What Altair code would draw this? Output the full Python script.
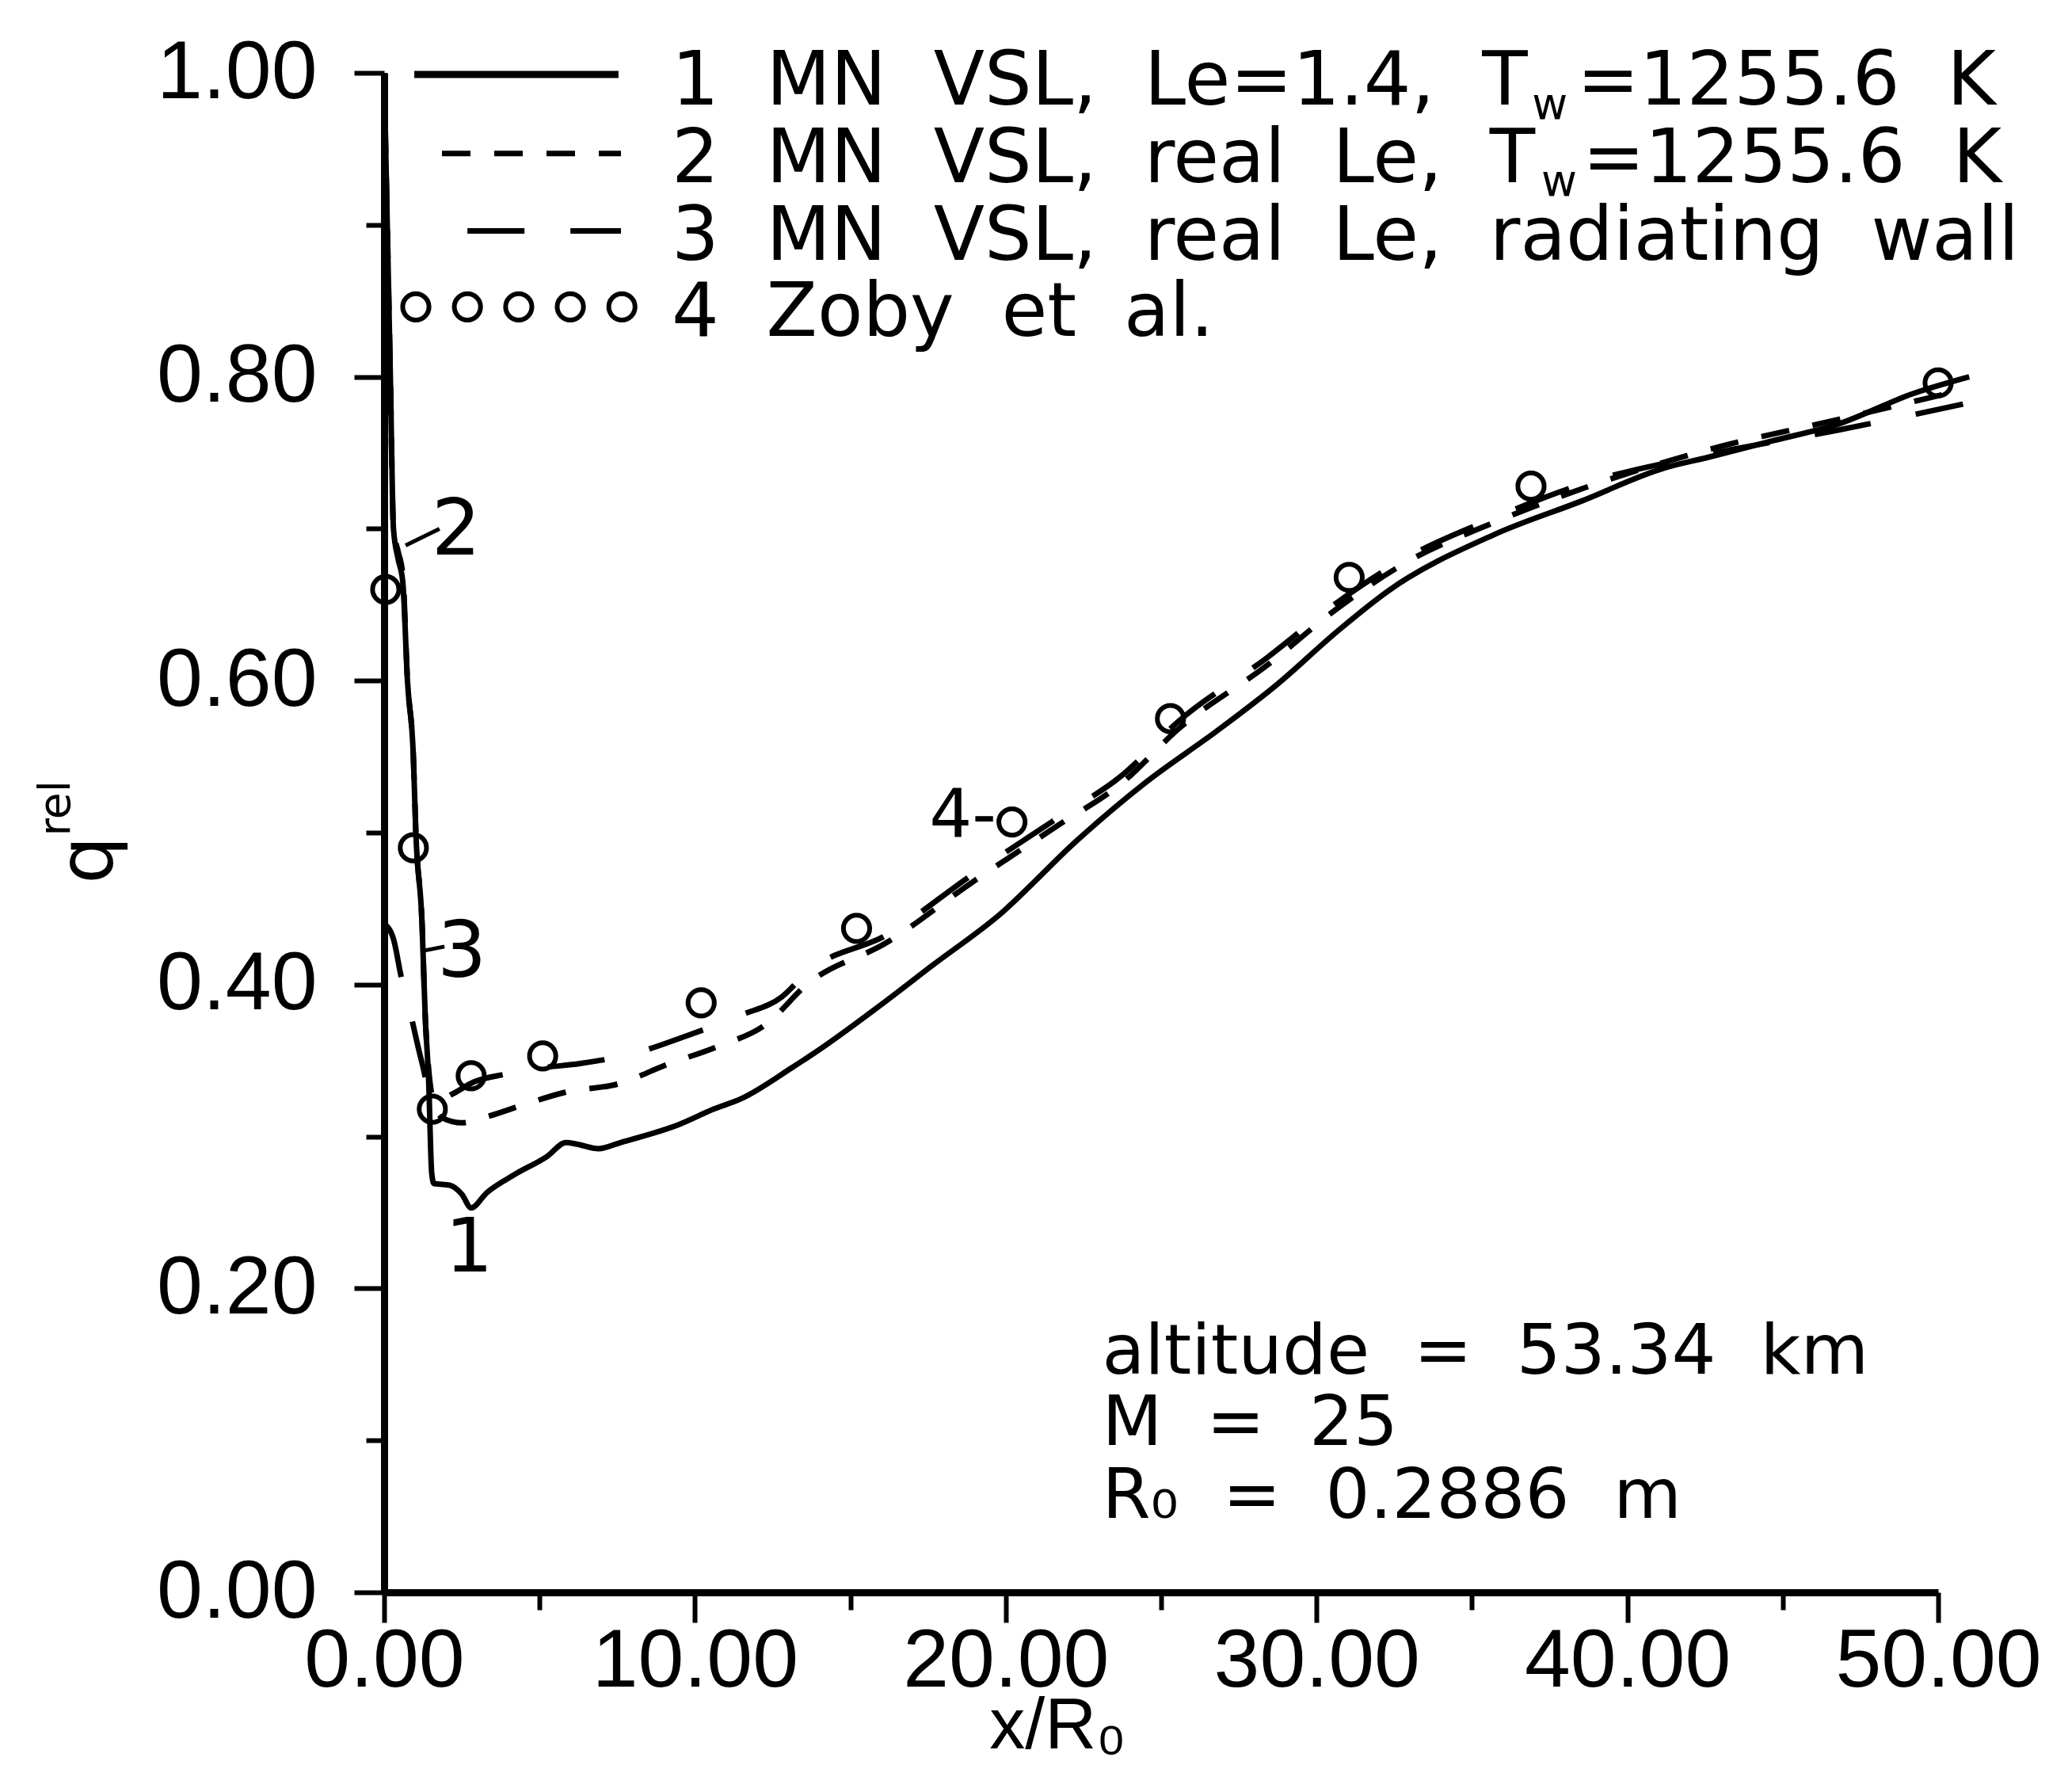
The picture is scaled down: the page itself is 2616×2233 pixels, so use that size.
import altair as alt
import pandas as pd

# ---- series 1: MN VSL, Le=1.4, Tw=1255.6 K (solid)
x1 = [0.0, 0.1, 0.2, 0.3, 0.45, 0.6, 0.75, 0.94, 1.02, 1.22, 1.32, 1.43, 1.53, 1.6, 2.1, 2.5, 2.8,
      3.3, 4.2, 5.25, 5.85, 6.2, 6.9, 7.6, 9.5, 10.6, 11.5, 13.1, 14.2, 16.2, 17.6, 19.8, 22.3,
      24.5, 26.8, 28.7, 30.7, 32.3, 35.7, 38.5, 41.2, 42.6, 44.5, 46.8, 49.2, 51.0]
y1 = [1.0, 0.9, 0.8, 0.7, 0.68, 0.665, 0.60, 0.55, 0.50, 0.44, 0.38, 0.338, 0.276, 0.269, 0.268, 0.262, 0.253,
      0.263, 0.275, 0.287, 0.296, 0.295, 0.292, 0.296, 0.308, 0.318, 0.325, 0.345, 0.36, 0.39, 0.412, 0.446, 0.495,
      0.533, 0.567, 0.597, 0.633, 0.659, 0.696, 0.718, 0.740, 0.747, 0.757, 0.769, 0.789, 0.80]

# ---- series 2: MN VSL, real Le, Tw=1255.6 K (short dashes)
x2 = [0.0, 0.1, 0.2, 0.3, 0.45, 0.6, 0.75, 0.94, 1.02, 1.22, 1.32, 1.43, 1.6, 1.9, 2.5, 3.3, 4.5,
      5.8, 7.6, 9.05, 10.7, 12.3, 13.6, 16.2, 18.9, 21.7, 23.7, 25.6, 28.4, 30.7, 32.9, 35.7, 38.5,
      42.6, 46.8, 50.5]
y2 = [1.0, 0.9, 0.8, 0.7, 0.685, 0.67, 0.60, 0.55, 0.50, 0.44, 0.38, 0.345, 0.322, 0.312, 0.309, 0.313, 0.321,
      0.329, 0.335, 0.347, 0.359, 0.374, 0.400, 0.428, 0.467, 0.505, 0.532, 0.569, 0.610, 0.648, 0.678, 0.704, 0.726,
      0.752, 0.772, 0.790]

# ---- series 3: MN VSL, real Le, radiating wall (long dashes)
x3 = [0.0, 0.3, 0.55, 0.8, 1.2, 1.6, 2.2, 2.9, 3.9, 5.0, 6.3, 8.1, 9.7, 11.5, 12.8, 13.6, 16.2,
      18.9, 21.7, 23.7, 25.6, 28.4, 30.7, 32.9, 35.7, 38.5, 42.6, 46.8, 50.8]
y3 = [0.44, 0.43, 0.405, 0.385, 0.35, 0.322, 0.328, 0.336, 0.341, 0.345, 0.348, 0.355, 0.366, 0.38, 0.392, 0.408, 0.433,
      0.472, 0.510, 0.537, 0.574, 0.615, 0.652, 0.681, 0.707, 0.729, 0.749, 0.765, 0.782]

# ---- series 4: Zoby et al. (circles)
x4 = [0.05, 0.94, 1.55, 2.8, 5.1, 10.2, 15.2, 20.2, 25.3, 31.05, 36.9, 50.0]
y4 = [0.66, 0.49, 0.318, 0.34, 0.353, 0.388, 0.437, 0.507, 0.575, 0.668, 0.728, 0.796]

# ---- axes
x_tick_values = [0, 5, 10, 15, 20, 25, 30, 35, 40, 45, 50]
y_tick_values = [0.0, 0.1, 0.2, 0.3, 0.4, 0.5, 0.6, 0.7, 0.8, 0.9, 1.0]
x_title = "x/R₀"
y_title = "q"
y_title_sup = "rel"

# ---- legend (drawn inside the plot)
legend_labels_left = ["1  MN  VSL,  Le=1.4,  T", "2  MN  VSL,  real  Le,  T",
                      "3  MN  VSL,  real  Le,  radiating  wall", "4  Zoby  et  al."]
legend_labels_right = ["=1255.6  K", "=1255.6  K"]
legend_row_y = [0.999, 0.947, 0.896, 0.846]
legend_text_y = [0.979, 0.928, 0.877, 0.827]
legend_text_x = 9.25
legend_right_x = [51.86, 52.04]
legend_sub_x = [36.93, 37.23]
legend_sub_y = [0.970, 0.919]
legend_line1_x = [0.97, 7.54]
legend_line2_x = [1.86, 7.62]
legend_line3_x = [2.68, 7.62]
legend_circle_x = [1.02, 2.68, 4.33, 5.99, 7.65]

# ---- annotations
info_lines = ["altitude  =  53.34  km", "M  =  25", "R₀  =  0.2886  m"]
info_x = 23.1
info_y = [0.144, 0.097, 0.049]
curve_labels = ["2", "3", "1"]
curve_label_x = [2.32, 2.50, 2.73]
curve_label_y = [0.683, 0.405, 0.211]
label4_text = "4-"
label4_x = 19.70
label4_y = 0.497
leader2_x = [0.69, 1.78]
leader2_y = [0.689, 0.700]
leader3_x = [1.20, 1.94]
leader3_y = [0.422, 0.425]

FONT = "DejaVu Sans"
TICKFONT = "Liberation Sans"
XTITLEFONT = "Liberation Sans, DejaVu Sans"


def keep_spaces(s):
    # SVG collapses runs of spaces; use non-breaking spaces to keep the wide word gaps
    return s.replace(" ", "\u00a0")


xscale = alt.Scale(domain=[0, 50], nice=False, zero=False)
yscale = alt.Scale(domain=[0, 1], nice=False, zero=False)

xaxis = alt.Axis(
    values=x_tick_values,
    labelExpr="datum.value % 10 == 0 ? format(datum.value, '.2f') : ''",
    tickSize={"condition": {"test": "datum.value % 10 == 0", "value": 38}, "value": 22},
    tickWidth=6, domainWidth=9, grid=False,
    labelFont=TICKFONT, labelFontSize=104, labelPadding=80, labelBaseline="alphabetic",
    labelFlush=False, labelOverlap=False, labelLimit=500,
    labelColor="black", tickColor="black", domainColor="black",
    titleFont=XTITLEFONT, titleFontSize=90, titleFontWeight="normal", titleColor="black",
    titleX=850, titleY=196, titleBaseline="alphabetic", titleAlign="center",
)
yaxis = alt.Axis(
    values=y_tick_values,
    labelExpr="round(datum.value * 10) % 2 == 0 ? format(datum.value, '.2f') : ''",
    tickSize={"condition": {"test": "round(datum.value * 10) % 2 == 0", "value": 38}, "value": 23},
    tickWidth=6, domainWidth=9, grid=False,
    labelFont=TICKFONT, labelFontSize=104, labelPadding=47, labelFlush=False, labelOverlap=False,
    labelLimit=500,
    labelColor="black", tickColor="black", domainColor="black",
    titleFont=FONT, titleFontSize=95, titleFontWeight="normal", titleColor="black",
    titleX=-345, titleY=993, titleAngle=270, titleBaseline="alphabetic", titleAlign="center",
)

X = alt.X("x:Q", scale=xscale, axis=xaxis, title=x_title)
Y = alt.Y("y:Q", scale=yscale, axis=yaxis, title=y_title)


def seg_df(xs, ys, seg):
    return pd.DataFrame({"x": xs, "y": ys, "seg": seg, "i": list(range(len(xs)))})


solid_df = seg_df(x1, y1, "c1")
leg1_df = seg_df(legend_line1_x, [legend_row_y[0]] * 2, "l1")
leader_df = pd.concat([seg_df(leader2_x, leader2_y, "a2"), seg_df(leader3_x, leader3_y, "a3")])
dash2_df = pd.concat([seg_df(x2, y2, "c2"), seg_df(legend_line2_x, [legend_row_y[1]] * 2, "l2")])
dash3_df = pd.concat([seg_df(x3, y3, "c3"), seg_df(legend_line3_x, [legend_row_y[2]] * 2, "l3")])
pts_df = pd.DataFrame({"x": x4 + legend_circle_x, "y": y4 + [legend_row_y[3]] * len(legend_circle_x)})

line_enc = dict(x=X, y=Y, detail="seg:N", order="i:Q")

solid = alt.Chart(solid_df).mark_line(color="black", strokeWidth=7, interpolate="monotone",
                                      clip=False).encode(**line_enc)
leg1 = alt.Chart(leg1_df).mark_line(color="black", strokeWidth=9, clip=False).encode(**line_enc)
leaders = alt.Chart(leader_df).mark_line(color="black", strokeWidth=5, clip=False).encode(**line_enc)
dash2 = alt.Chart(dash2_df).mark_line(color="black", strokeWidth=7, strokeDash=[36, 30],
                                      strokeCap="butt", interpolate="monotone",
                                      clip=False).encode(**line_enc)
dash3 = alt.Chart(dash3_df).mark_line(color="black", strokeWidth=7, strokeDash=[72, 58],
                                      strokeCap="butt", interpolate="monotone",
                                      clip=False).encode(**line_enc)
pts = alt.Chart(pts_df).mark_point(shape="circle", filled=False, size=1100, strokeWidth=6,
                                   color="black", opacity=1, clip=False).encode(x=X, y=Y)

# text layers
left_txt_df = pd.DataFrame({
    "x": [legend_text_x] * 4 + [info_x] * 3,
    "y": legend_text_y + info_y,
    "t": [keep_spaces(s) for s in legend_labels_left + info_lines],
    "s": [94] * 4 + [88] * 3,
})
left_txt = alt.Chart(left_txt_df).mark_text(align="left", baseline="alphabetic", font=FONT,
                                            color="black").encode(
    x=X, y=Y, text="t:N", size=alt.Size("s:Q", scale=None))

sub_df = pd.DataFrame({"x": legend_sub_x, "y": legend_sub_y, "t": ["w", "w"], "s": [55, 55]})
sub_txt = alt.Chart(sub_df).mark_text(align="left", baseline="alphabetic", font=FONT,
                                      color="black").encode(
    x=X, y=Y, text="t:N", size=alt.Size("s:Q", scale=None))

right_df = pd.DataFrame({"x": legend_right_x + [label4_x], "y": legend_text_y[:2] + [label4_y],
                         "t": [keep_spaces(s) for s in legend_labels_right + [label4_text]],
                         "s": [94, 94, 85]})
right_txt = alt.Chart(right_df).mark_text(align="right", baseline="alphabetic", font=FONT,
                                          color="black").encode(
    x=X, y=Y, text="t:N", size=alt.Size("s:Q", scale=None))

center_df = pd.DataFrame({"x": curve_label_x, "y": curve_label_y, "t": curve_labels, "s": [98, 98, 95]})
center_txt = alt.Chart(center_df).mark_text(align="center", baseline="alphabetic", font=FONT,
                                            color="black").encode(
    x=X, y=Y, text="t:N", size=alt.Size("s:Q", scale=None))

sup_df = pd.DataFrame({"x": [-10.12], "y": [0.516], "t": [y_title_sup]})
sup_txt = alt.Chart(sup_df).mark_text(align="center", baseline="alphabetic", font=FONT, angle=270,
                                      fontSize=55, color="black").encode(x=X, y=Y, text="t:N")

chart = alt.layer(
    solid, dash2, dash3, leg1, leaders, pts, left_txt, sub_txt, right_txt, center_txt, sup_txt
).properties(
    width=1962, height=1918,
    padding={"left": 485, "top": 92, "right": 169, "bottom": 223},
    autosize=alt.AutoSizeParams(type="none"),
    background="white",
).configure_view(strokeWidth=0)

chart.save("out.html", embed_options={"renderer": "svg", "actions": False})
